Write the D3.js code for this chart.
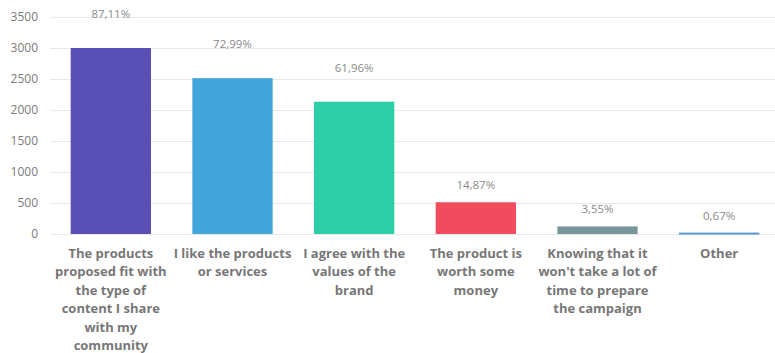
<!DOCTYPE html>
<html>
<head>
<meta charset="utf-8">
<script src="https://cdn.jsdelivr.net/npm/d3@7/dist/d3.min.js"></script>
<style>
  body { margin: 0; background: #fff; }
  svg text { font-family: "Open Sans", sans-serif; }
  .grid line { stroke: #e8e8e8; stroke-width: 1; }
</style>
</head>
<body>
<svg id="chart" width="775" height="353"></svg>
<script>
// Reasons for taking part (counts + share of respondents)
const categories = [
  ["The products", "proposed fit with", "the type of", "content I share", "with my", "community"],
  ["I like the products", "or services"],
  ["I agree with the", "values of the", "brand"],
  ["The product is", "worth some", "money"],
  ["Knowing that it", "won't take a lot of", "time to prepare", "the campaign"],
  ["Other"]
];
const values = [3000, 2514, 2134, 512, 122, 23];
const percentLabels = ["87,11%", "72,99%", "61,96%", "14,87%", "3,55%", "0,67%"];
const colors = ["#5a4fb5", "#43a6db", "#2ecfa8", "#f24b5f", "#78959c", "#5b9bd5"];
const yTicks = [0, 500, 1000, 1500, 2000, 2500, 3000, 3500];

const svg = d3.select('#chart');

const x = d3.scaleBand()
    .domain(d3.range(values.length))
    .range([50, 780])
    .paddingInner(0.34)
    .paddingOuter(0.17);

const y = d3.scaleLinear()
    .domain([0, 3500])
    .range([234, 17]);

// grid lines
svg.append('g').attr('class', 'grid')
  .selectAll('line')
  .data(yTicks)
  .enter().append('line')
    .attr('x1', 50)
    .attr('x2', 775)
    .attr('y1', d => Math.round(y(d)) + 0.5)
    .attr('y2', d => Math.round(y(d)) + 0.5);

// y axis labels
const yAxis = d3.axisLeft(y)
    .tickValues(yTicks)
    .tickFormat(d3.format('d'))
    .tickSize(0)
    .tickPadding(0);
const yG = svg.append('g')
    .attr('transform', 'translate(38,0)')
    .call(yAxis);
yG.select('.domain').remove();
yG.selectAll('text')
    .attr('fill', '#7a7a7a')
    .style('font-size', '12px')
    .style('font-family', '"Open Sans", sans-serif');

// bars
svg.selectAll('.bar')
  .data(values)
  .enter().append('rect')
    .attr('class', 'bar')
    .attr('x', (d, i) => x(i))
    .attr('width', x.bandwidth())
    .attr('y', d => y(d))
    .attr('height', d => Math.max(2, y(0) - y(d)))
    .attr('fill', (d, i) => colors[i]);

// percentage labels
svg.selectAll('.pct')
  .data(values)
  .enter().append('text')
    .attr('class', 'pct')
    .attr('x', (d, i) => x(i) + x.bandwidth() / 2)
    .attr('y', d => y(d) - (d > 1000 ? 30 : 13))
    .attr('text-anchor', 'middle')
    .attr('fill', '#8a8a8a')
    .style('font-size', '11.5px')
    .text((d, i) => percentLabels[i]);

// category labels
const cat = svg.selectAll('.cat')
  .data(categories)
  .enter().append('text')
    .attr('class', 'cat')
    .attr('text-anchor', 'middle')
    .attr('fill', '#777777')
    .style('font-size', '13px')
    .style('font-weight', 'bold');

cat.selectAll('tspan')
  .data((d, i) => d.map(line => ({ line, i })))
  .enter().append('tspan')
    .attr('x', d => x(d.i) + x.bandwidth() / 2)
    .attr('y', (d, j) => 257.5 + j * 18.5)
    .text(d => d.line);
</script>
</body>
</html>
